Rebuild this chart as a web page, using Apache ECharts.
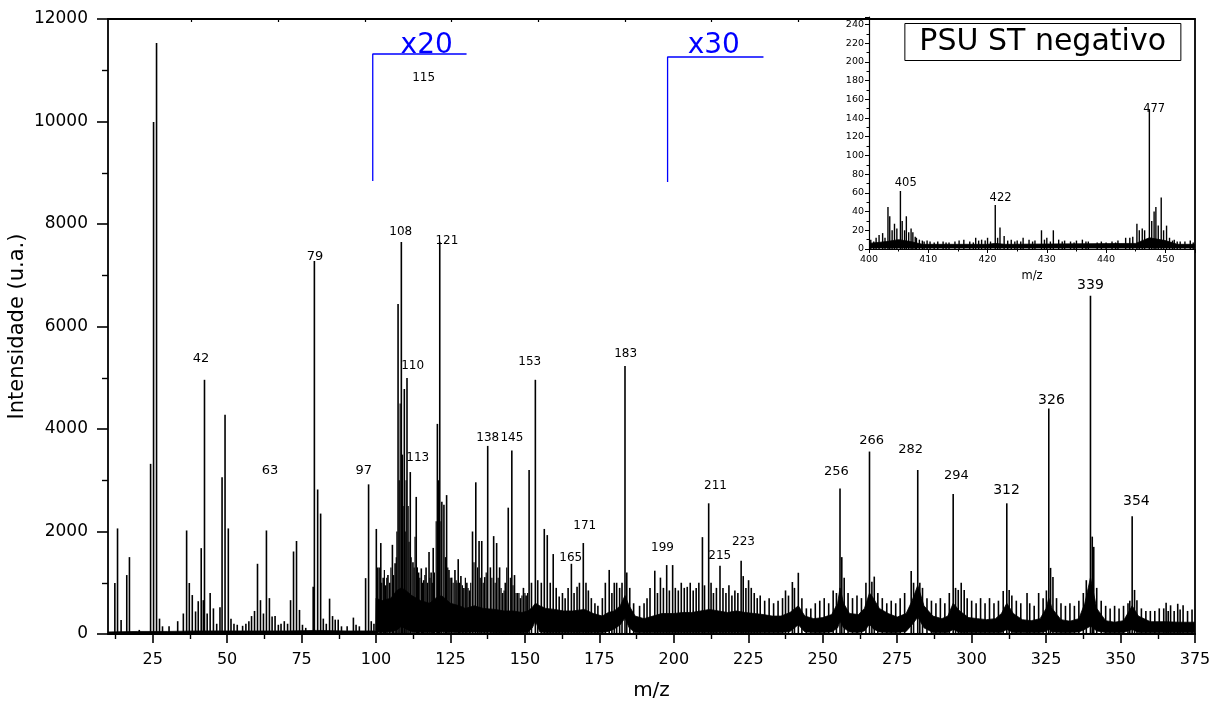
<!DOCTYPE html>
<html>
<head>
<meta charset="utf-8">
<script src="https://cdn.jsdelivr.net/npm/echarts@6/dist/echarts.min.js"></script>
<style>
  html, body { margin: 0; padding: 0; background: #fff; }
  #chart { width: 1223px; height: 708px; }
</style>
</head>
<body>
<div id="chart"></div>
<script>
const FONT = 'DejaVu Sans';

// ---- Main spectrum: individual peaks (m/z, intensity) ----
const peakMz = [
  12.3, 13.2, 14.4, 16.3, 17.2, 20.5, 24.3, 25.3, 26.3, 27.3, 28.3, 30.5, 33.4, 35.3, 36.4, 37.3, 38.3, 39.4,
  40.3, 41.3, 42.0, 42.4, 43.3, 44.3, 45.4, 46.5, 47.6, 48.3, 49.3, 50.4, 51.3, 52.3, 53.4, 55.2, 56.3, 57.3,
  58.2, 59.2, 60.2, 61.2, 62.2, 63.2, 64.2, 65.1, 66.1, 67.2, 68.1, 69.2, 70.3, 71.3, 72.3, 73.3, 74.3, 75.3,
  76.4, 78.9, 79.3, 80.4, 81.4, 82.3, 83.3, 84.4, 85.4, 86.3, 87.3, 88.4, 90.3, 92.4, 93.3, 94.4, 96.5, 97.5,
  98.4, 99.3,
  100.1, 100.6, 101.6, 102.4, 103.2, 104.0, 104.6, 105.5, 106.4, 107.4, 108.5, 109.5, 110.4, 111.5, 112.4, 113.5,
  114.3, 115.2, 116.0, 116.8, 117.8, 118.5, 119.2, 120.6, 121.4, 122.1, 122.8, 123.7, 124.5, 125.4, 126.5, 127.6,
  128.5, 129.5, 130.5, 131.4, 132.4, 133.5, 134.6, 135.5, 136.5, 137.5, 138.4, 139.5, 140.5, 141.5, 142.5, 143.4,
  144.4, 145.6, 146.5, 147.5, 148.5, 149.5, 150.4, 151.4, 152.2, 153.5, 154.3, 155.5, 156.5, 157.5, 158.5, 159.5,
  160.5, 161.5, 162.6, 163.5, 164.5, 165.6, 166.5, 167.5, 168.3, 169.6, 170.5, 171.3, 172.3, 173.5, 174.5, 176.0,
  177.0, 178.3, 179.2, 180.0, 180.8, 181.8, 182.6, 183.6, 184.2, 185.2, 186.5, 188.5, 190.0, 191.0, 192.0, 193.6,
  194.5, 195.5, 196.5, 197.6, 198.5, 199.6, 200.5, 201.5, 202.5, 203.5, 204.5, 205.5, 206.5, 207.5, 208.4, 209.6,
  210.3, 211.7, 212.5, 213.3, 214.3, 215.5, 216.5, 217.5, 218.5, 219.5, 220.5, 221.5, 222.6, 223.3, 224.2, 225.1,
  226.0, 227.0, 228.0, 229.0, 230.5, 232.0, 233.5, 235.0, 236.5, 237.5, 238.5, 239.8, 240.5, 241.8, 243.0, 244.5,
  246.0, 247.5, 249.0, 250.5, 252.0, 253.5, 254.6, 255.8, 256.4, 257.2, 258.5, 260.0, 261.5, 263.0, 264.5, 265.7,
  266.5, 267.3, 268.5, 270.0, 271.5, 273.0, 274.5, 276.0, 277.5, 279.7, 280.5, 281.9, 282.6, 283.5, 285.0, 286.5,
  288.0, 289.5, 291.0, 292.5, 293.8, 294.6, 295.5, 296.5, 297.5, 298.5, 300.0, 301.5, 303.0, 304.5, 306.0, 307.5,
  309.0, 310.6, 311.8, 312.6, 313.5, 315.0, 316.5, 318.6, 319.5, 321.0, 322.5, 324.0, 325.1, 325.9, 326.5, 327.3,
  328.5, 330.0, 331.5, 333.0, 334.5, 336.0, 337.5, 338.5, 339.9, 340.5, 341.0, 342.0, 343.5, 345.0, 346.5, 348.0,
  349.5, 351.0, 352.5, 353.1, 353.9, 354.7, 355.5, 357.0, 358.5, 360.0, 361.5, 363.0, 364.5, 365.3, 366.0, 366.8,
  368.0, 369.2, 370.0, 371.0, 372.5, 374.0
];
const peakInt = [
  995, 2060, 275, 1150, 1500, 80, 3320, 9990, 11530, 300, 150, 150, 250, 400, 2020, 995, 760, 440,
  640, 1675, 660, 4960, 400, 800, 500, 200, 520, 3060, 4280, 2060, 300, 200, 180, 160, 200, 250,
  350, 450, 1370, 660, 400, 2020, 700, 340, 350, 180, 200, 250, 200, 660, 1610, 1815, 470, 180,
  120, 920, 7280, 2820, 2350, 300, 200, 690, 350, 280, 280, 150, 150, 320, 180, 150, 1090, 2920,
  250, 200,
  2050, 1300, 1775, 1100, 950, 1150, 1000, 1740, 1380, 6440, 7650, 4780, 4995, 3160, 1400, 2675,
  1200, 1280, 1050, 1300, 1600, 1200, 1680, 4100, 7655, 2580, 2520, 2710, 1250, 1100, 1250, 1460,
  1130, 900, 1000, 850, 2000, 2960, 1815, 1815, 1110, 3670, 1300, 1910, 1775, 1300, 800, 1000,
  2465, 3580, 1150, 800, 700, 900, 750, 3200, 1000, 4960, 1050, 1000, 2050, 1930, 1000, 1560,
  900, 730, 800, 700, 900, 1370, 800, 920, 1000, 1775, 1000, 850, 700, 600, 550, 700,
  1000, 1250, 800, 1000, 1000, 900, 1000, 5230, 1200, 900, 600, 550, 600, 700, 900, 1235,
  800, 1100, 900, 1345, 850, 1345, 900, 850, 1000, 900, 920, 1000, 850, 900, 1000, 1890,
  950, 2550, 1000, 800, 900, 1330, 900, 800, 950, 750, 850, 800, 1430, 1130, 900, 1050,
  900, 800, 700, 750, 650, 700, 600, 650, 700, 850, 750, 1015, 900, 1195, 700, 500,
  500, 600, 650, 700, 600, 850, 800, 2840, 1500, 1100, 800, 700, 750, 700, 1000, 3560,
  1020, 1120, 800, 700, 600, 650, 600, 700, 800, 1230, 1000, 3200, 1000, 900, 700, 650,
  600, 700, 600, 800, 2730, 900, 860, 1000, 860, 700, 650, 600, 700, 600, 700, 600,
  650, 840, 2550, 860, 750, 650, 600, 800, 600, 550, 800, 700, 850, 4400, 1290, 1110,
  700, 600, 550, 600, 550, 650, 800, 1050, 6600, 1900, 1700, 900, 650, 550, 500, 550,
  500, 550, 600, 650, 2300, 860, 660, 500, 450, 450, 450, 500, 500, 610, 450, 560,
  450, 590, 480, 560, 450, 480
];

// ---- Secondary spikes inside the crowded m/z 100-150 stretch ----
const fineMz = [
  100.4, 101.1, 101.9, 102.8, 103.6, 105.0, 105.9, 106.8, 107.0, 107.8, 108.1, 108.9, 109.1, 109.8, 110.1, 110.8,
  111.1, 111.8, 112.8, 113.1, 113.9, 114.7, 115.6, 116.4, 117.3, 118.1, 118.9, 119.6, 120.2, 121.0, 121.8, 123.3,
  124.1, 124.9, 125.9, 126.9, 127.2, 128.0, 129.0, 130.0, 130.9, 131.8, 132.9, 134.1, 135.0, 136.0, 137.0, 138.9,
  140.0, 141.0, 142.0, 143.0, 143.9, 145.1, 146.0, 147.0, 148.0, 149.0, 150.0, 150.9
];
const fineInt = [
  1100, 1300, 1000, 1250, 1100, 1300, 1150, 1500, 2000, 3000, 4500, 3500, 2500, 2000, 3000, 2500,
  1800, 1500, 1300, 1900, 1300, 1100, 1000, 1150, 1000, 1100, 1000, 1200, 2200, 3000, 2200, 1500,
  1300, 1100, 1000, 1050, 1000, 1000, 950, 1100, 900, 1000, 1400, 1300, 1100, 1000, 1200, 1100,
  1000, 1100, 900, 850, 1300, 1100, 950, 800, 800, 750, 800, 800
];

// ---- Main spectrum: dense noise band (lower and upper edge) ----
const bandMz = [
  10, 20, 30, 40, 50, 60, 70, 80, 90, 99.9,
  100, 102, 105, 107, 108.5, 110, 112, 115, 118, 120, 122, 125, 128, 130, 133, 136, 140, 143, 146, 149,
  151, 152.5, 153.5, 155, 157, 160, 163, 166, 170, 173, 176, 178, 180, 182, 183.6, 185, 187, 190, 193, 196,
  200, 203, 206, 209, 212, 215, 218, 221, 224, 227, 230, 233, 236, 239, 241.8, 244, 247, 250, 253, 255,
  255.8, 257, 259, 262, 264, 265.7, 267, 269, 272, 275, 278, 280, 281.9, 284, 287, 290, 292, 293.8, 296, 299,
  302, 305, 308, 310, 311.8, 314, 317, 320, 323, 325, 325.9, 327, 330, 333, 336, 338, 339.9, 342, 345, 348,
  351, 353.9, 356, 360, 365, 370, 375
];
const bandHigh = [
  40, 50, 50, 60, 60, 60, 60, 70, 60, 60,
  700, 650, 700, 850, 900, 850, 750, 650, 600, 700, 750, 600, 550, 500, 550, 500, 480, 450, 450, 420,
  450, 520, 600, 550, 500, 480, 450, 450, 480, 400, 350, 420, 450, 550, 750, 550, 350, 300, 350, 400,
  400, 420, 420, 450, 480, 450, 420, 450, 420, 400, 380, 350, 350, 420, 550, 350, 300, 320, 380, 600,
  900, 600, 400, 380, 500, 800, 700, 500, 400, 330, 400, 650, 950, 550, 350, 300, 350, 600, 450, 320,
  300, 280, 300, 400, 600, 400, 280, 260, 300, 500, 700, 500, 280, 250, 300, 600, 1100, 500, 260, 230,
  260, 550, 350, 240, 240, 230, 230
];
const bandLow = [
  0, 0, 0, 0, 0, 0, 0, 0, 0, 0,
  40, 40, 50, 80, 150, 100, 50, 40, 40, 40, 50, 40, 40, 40, 40, 40, 30, 30, 30, 30,
  40, 120, 260, 40, 30, 30, 30, 30, 30, 30, 30, 50, 100, 180, 310, 120, 30, 30, 30, 30,
  30, 30, 30, 30, 30, 30, 30, 30, 30, 30, 30, 30, 30, 50, 180, 40, 30, 30, 40, 120,
  250, 120, 40, 30, 60, 190, 100, 40, 30, 30, 50, 180, 330, 120, 30, 30, 30, 90, 30, 30,
  30, 30, 30, 30, 90, 30, 30, 30, 30, 50, 100, 40, 30, 30, 40, 90, 155, 60, 30, 30,
  30, 90, 30, 30, 30, 30, 30
];

// ---- Peak annotations: text, anchor m/z, anchor intensity ----
const labelText = ['42', '63', '79', '97', '108', '115', '121', '110', '113', '138', '145', '153', '183', '165',
  '171', '199', '211', '215', '223', '256', '266', '282', '294', '312', '326', '339', '354'];
const labelMz = [41.2, 64.4, 79.5, 95.9, 108.3, 116.0, 123.8, 112.3, 114.0, 137.5, 145.6, 151.6, 183.8, 165.4,
  170.1, 196.2, 214.0, 215.4, 223.4, 254.6, 266.4, 279.5, 294.9, 311.7, 326.8, 339.9, 355.3];
const labelInt = [5366, 3180, 7356, 3180, 7844, 10849, 7668, 5229, 3434, 3824, 3824, 5307, 5463, 1483,
  2107, 1678, 2888, 1522, 1795, 3161, 3766, 3590, 3083, 2810, 4566, 6810, 2595];
const labelSize = [13, 13, 13, 13, 12, 12, 12, 12, 12, 12, 12, 12, 12, 12,
  12, 12, 12, 12, 12, 13, 13, 13, 13, 14, 14, 14, 14];

// ---- Scale-change markers (x20 from m/z 100, x30 from m/z 200) ----
const scaleText = ['x20', 'x30'];
const scaleTextMz = [117.0, 213.4];
const scaleTextInt = [11480, 11480];
const scaleLine1 = [[98.9, 8840], [98.9, 11317], [130.4, 11317]];
const scaleLine2 = [[197.9, 8820], [197.9, 11259], [230.1, 11259]];

// ---- Axis ticks ----
const xMajorTicks = [25, 50, 75, 100, 125, 150, 175, 200, 225, 250, 275, 300, 325, 350, 375];
const xMinorTicks = [12.5, 37.5, 62.5, 87.5, 112.5, 137.5, 162.5, 187.5, 212.5, 237.5, 262.5, 287.5, 312.5, 337.5, 362.5];
const topTicks = [38.1, 67.2, 96.3, 125.4, 154.5, 183.6, 212.7, 241.8];

// ---- Inset (m/z 400-455) ----
const insetMz = [
  400.3, 400.8, 401.2, 401.7, 402.3, 402.7, 403.2, 403.5, 403.9, 404.3, 404.7, 405.3, 405.6, 406.0, 406.3, 406.7,
  407.1, 407.4, 407.8, 408.0, 408.5, 409.0, 409.3, 409.8, 410.3, 411.0, 411.6, 412.5, 413.0, 413.5, 414.5, 415.2,
  416.0, 417.0, 417.6, 418.0, 418.5, 419.0, 419.6, 420.0, 420.5, 421.3, 421.7, 422.1, 422.8, 423.4, 424.0, 424.6,
  425.0, 425.6, 426.0, 427.0, 427.6, 428.0, 429.1, 429.6, 430.0, 430.6, 431.1, 432.0, 432.6, 433.0, 434.0, 434.6,
  435.0, 436.0, 436.6, 437.0, 438.5, 439.2, 440.0, 441.0, 441.6, 442.0, 443.3, 444.0, 444.5, 445.2, 445.6, 446.1,
  446.5, 447.3, 447.7, 448.1, 448.4, 448.8, 449.3, 449.7, 450.2, 450.7, 451.2, 451.5, 452.0, 452.5, 453.3, 454.2,
  454.7
];
const insetInt = [
  10, 8, 12, 15, 17, 12, 45, 35, 20, 27, 22, 62, 30, 20, 35, 18,
  22, 18, 13, 12, 10, 9, 8, 9, 8, 7, 8, 8, 7, 7, 8, 9,
  10, 8, 7, 12, 9, 10, 9, 12, 8, 47, 12, 23, 14, 9, 10, 8,
  9, 8, 12, 10, 8, 9, 20, 10, 12, 8, 20, 10, 8, 9, 8, 7,
  9, 10, 8, 8, 7, 8, 7, 8, 7, 9, 12, 12, 13, 27, 20, 22,
  20, 149, 30, 40, 45, 25, 55, 20, 25, 12, 9, 10, 8, 8, 8, 9,
  7
];
const insetBandMz = [400, 403, 405, 407, 409, 420, 421.3, 423, 445, 447.3, 450, 452, 455];
const insetBandHigh = [6, 8, 10, 8, 5, 5, 6, 5, 6, 12, 9, 5, 5];
const insetBandLow = [1, 1, 1, 1, 1, 1, 1, 1, 1, 1, 1, 1, 1];
const insetLabelText = ['405', '422', '477'];
const insetLabelMz = [406.2, 422.2, 448.1];
const insetLabelInt = [71, 55, 150];

// ---- Rendering helpers ----
function stickSeries(xi, yi, mz, val, width) {
  return {
    type: 'custom', xAxisIndex: xi, yAxisIndex: yi, silent: true, clip: true, z: 3,
    data: mz.map((m, i) => [m, val[i]]),
    renderItem: (params, api) => {
      const a = api.coord([api.value(0), 0]);
      const b = api.coord([api.value(0), api.value(1)]);
      return { type: 'line', shape: { x1: a[0], y1: a[1], x2: b[0], y2: b[1] },
        style: { stroke: '#000', lineWidth: width } };
    }
  };
}
function bandSeries(xi, yi, mz, low, high) {
  return {
    type: 'custom', xAxisIndex: xi, yAxisIndex: yi, silent: true, clip: true, z: 2,
    data: [[mz[0], high[0]]],
    renderItem: (params, api) => {
      const pts = [];
      for (let i = 0; i < mz.length; i++) pts.push(api.coord([mz[i], high[i]]));
      for (let i = mz.length - 1; i >= 0; i--) pts.push(api.coord([mz[i], low[i]]));
      return { type: 'polygon', shape: { points: pts }, style: { fill: '#000', stroke: '#000', lineWidth: 0.8 } };
    }
  };
}
function textSeries(xi, yi, texts, mz, val, sizes, color) {
  return {
    type: 'custom', xAxisIndex: xi, yAxisIndex: yi, silent: true, clip: false, z: 5,
    data: mz.map((m, i) => [m, val[i]]),
    renderItem: (params, api) => {
      const p = api.coord([api.value(0), api.value(1)]);
      const i = params.dataIndex;
      const fs = Array.isArray(sizes) ? sizes[i] : sizes;
      return { type: 'text', x: p[0], y: p[1],
        style: { text: texts[i], fill: color, font: fs + 'px "' + FONT + '"', align: 'center', verticalAlign: 'middle' } };
    }
  };
}

const axisColor = '#000';
const plain = (v) => String(v);
const chart = echarts.init(document.getElementById('chart'), null, { renderer: 'canvas' });

chart.setOption({
  animation: false,
  backgroundColor: '#fff',
  textStyle: { fontFamily: FONT },
  title: {
    text: 'PSU ST negativo',
    right: 42, top: 23,
    padding: [4, 15, 4, 15],
    borderColor: '#000', borderWidth: 1,
    textStyle: { fontFamily: FONT, fontSize: 30, fontWeight: 'normal', color: '#000' }
  },
  grid: [
    { left: 108, right: 28, top: 19, bottom: 74, containLabel: false, outerBoundsMode: 'none' },
    { left: 869, right: 28, top: 17, bottom: 459, containLabel: false, outerBoundsMode: 'none' }
  ],
  xAxis: [
    { // main bottom axis with labels
      type: 'value', gridIndex: 0, min: 10, max: 375, position: 'bottom',
      axisLine: { show: true, lineStyle: { color: axisColor, width: 1.8 } },
      axisTick: { show: true, customValues: xMajorTicks, length: 9, lineStyle: { color: axisColor, width: 1.6 } },
      axisLabel: { customValues: xMajorTicks, fontSize: 16, color: '#000', fontFamily: FONT, margin: 18, formatter: plain },
      splitLine: { show: false },
      name: 'm/z', nameLocation: 'middle', nameGap: 47, nameMoveOverlap: false,
      nameTextStyle: { fontSize: 20, color: '#000', fontFamily: FONT }
    },
    { // minor ticks
      type: 'value', gridIndex: 0, min: 10, max: 375, position: 'bottom',
      axisLine: { show: false },
      axisTick: { show: true, customValues: xMinorTicks, length: 5, lineStyle: { color: axisColor, width: 1.4 } },
      axisLabel: { show: false }, splitLine: { show: false }
    },
    { // top frame
      type: 'value', gridIndex: 0, min: 10, max: 375, position: 'top',
      axisLine: { show: true, lineStyle: { color: axisColor, width: 1.8 } },
      axisTick: { show: true, inside: true, customValues: topTicks, length: 3, lineStyle: { color: axisColor, width: 1.2 } },
      axisLabel: { show: false }, splitLine: { show: false }
    },
    { // inset axis
      type: 'value', gridIndex: 1, min: 400, max: 455, interval: 10,
      axisLine: { show: true, lineStyle: { color: axisColor, width: 1.2 } },
      axisTick: { show: true, length: 4, lineStyle: { color: axisColor, width: 1 } },
      minorTick: { show: true, splitNumber: 2, length: 2.5, lineStyle: { color: axisColor, width: 1 } },
      axisLabel: { fontSize: 9.5, color: '#000', fontFamily: FONT, margin: 6, showMaxLabel: false, formatter: plain },
      splitLine: { show: false },
      name: 'm/z', nameLocation: 'middle', nameGap: 21, nameMoveOverlap: false,
      nameTextStyle: { fontSize: 11.5, color: '#000', fontFamily: FONT }
    }
  ],
  yAxis: [
    {
      type: 'value', gridIndex: 0, min: 0, max: 12000, interval: 2000,
      axisLine: { show: true, lineStyle: { color: axisColor, width: 1.8 } },
      axisTick: { show: true, length: 11, lineStyle: { color: axisColor, width: 1.6 } },
      minorTick: { show: true, splitNumber: 2, length: 6, lineStyle: { color: axisColor, width: 1.4 } },
      axisLabel: { fontSize: 17, color: '#000', fontFamily: FONT, margin: 20, formatter: plain },
      splitLine: { show: false },
      name: 'Intensidade (u.a.)', nameLocation: 'middle', nameGap: 80, nameRotate: 90, nameMoveOverlap: false,
      nameTextStyle: { fontSize: 21, color: '#000', fontFamily: FONT }
    },
    { // right frame
      type: 'value', gridIndex: 0, min: 0, max: 12000, position: 'right',
      axisLine: { show: true, lineStyle: { color: axisColor, width: 1.8 } },
      axisTick: { show: false }, axisLabel: { show: false }, splitLine: { show: false }
    },
    { // inset axis
      type: 'value', gridIndex: 1, min: 0, max: 248, interval: 20,
      axisLine: { show: true, lineStyle: { color: axisColor, width: 1.2 } },
      axisTick: { show: true, length: 4, lineStyle: { color: axisColor, width: 1 } },
      minorTick: { show: true, splitNumber: 2, length: 2.5, lineStyle: { color: axisColor, width: 1 } },
      axisLabel: { fontSize: 9.5, color: '#000', fontFamily: FONT, margin: 5, formatter: plain },
      splitLine: { show: false }
    }
  ],
  series: [
    bandSeries(0, 0, bandMz, bandLow, bandHigh),
    stickSeries(0, 0, fineMz, fineInt, 1.2),
    stickSeries(0, 0, peakMz, peakInt, 1.6),
    textSeries(0, 0, labelText, labelMz, labelInt, labelSize, '#000'),
    {
      type: 'line', xAxisIndex: 0, yAxisIndex: 0, data: scaleLine1, symbol: 'none', silent: true, z: 4,
      lineStyle: { color: '#0000ff', width: 1.3 }
    },
    {
      type: 'line', xAxisIndex: 0, yAxisIndex: 0, data: scaleLine2, symbol: 'none', silent: true, z: 4,
      lineStyle: { color: '#0000ff', width: 1.3 }
    },
    textSeries(0, 0, scaleText, scaleTextMz, scaleTextInt, 28, '#0000ff'),
    bandSeries(3, 2, insetBandMz, insetBandLow, insetBandHigh),
    stickSeries(3, 2, insetMz, insetInt, 1.4),
    textSeries(3, 2, insetLabelText, insetLabelMz, insetLabelInt, 11.5, '#000')
  ]
});
</script>
</body>
</html>
